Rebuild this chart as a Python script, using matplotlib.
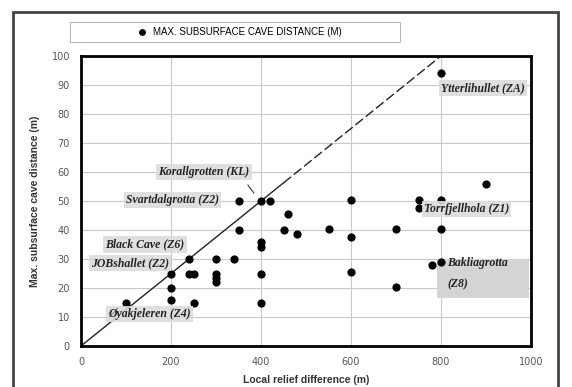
import matplotlib.pyplot as plt
from matplotlib.patches import Rectangle

# cave data: local relief (m) vs. max subsurface distance (m)
relief = [100, 200, 200, 200, 240, 240, 250, 250, 300, 300, 300, 300, 340,
          350, 350, 400, 420, 400, 400, 400, 400, 450, 460, 480, 550,
          600, 600, 600, 700, 700, 750, 750, 800, 800, 780, 800, 800, 900]
distance = [15, 25, 20, 16, 30, 25, 25, 15, 30, 25, 23.5, 22, 30,
            50, 40, 50, 50, 36, 34, 25, 15, 40, 45.5, 38.5, 40.5,
            50.5, 37.5, 25.5, 40.5, 20.5, 50.5, 47.5, 50.5, 40.5, 28, 29, 94, 56]

# reference line (1:8 ratio), solid part then dashed part
line_solid_x = [0, 450]
line_solid_y = [0, 56.25]
line_dash_x = [450, 800]
line_dash_y = [56.25, 100]

# cave names: (text, x, y, ha)
cave_labels = [
    ("Ytterlihullet (ZA)", 893, 89, "center"),
    ("Korallgrotten (KL)", 273, 60, "center"),
    ("Svartdalgrotta (Z2)", 204, 50.3, "center"),
    ("Torrfjellhola (Z1)", 762, 47.3, "left"),
    ("Black Cave (Z6)", 142, 35, "center"),
    ("JOBshallet (Z2)", 109, 28.6, "center"),
    ("Øyakjeleren (Z4)", 153, 11, "center"),
]

x_ticks = [0, 200, 400, 600, 800, 1000]
y_ticks = list(range(0, 101, 10))

W, H = 572, 387
fig = plt.figure(figsize=(W / 100, H / 100), dpi=100)
ax = fig.add_axes([81 / W, 1 - 346 / H, 450 / W, 290 / H])

ax.set_xlim(0, 1000)
ax.set_ylim(0, 100)
ax.set_xticks(x_ticks)
ax.set_yticks(y_ticks)
ax.grid(True, color="#c8c8c8", linewidth=0.8)
ax.set_axisbelow(True)
for s in ax.spines.values():
    s.set_linewidth(2)
ax.tick_params(length=0, pad=8, labelsize=7, labelcolor="#555555")

ax.plot(line_solid_x, line_solid_y, color="#222222", lw=1)
ax.plot(line_dash_x, line_dash_y, color="#222222", lw=1, dashes=(7, 2.5))

pts = ax.scatter(relief, distance, s=24, color="black", zorder=3)

lab_font = dict(family="Liberation Serif", style="italic", weight="bold",
                fontsize=8.5, color="#222222")
for txt, x, y, ha in cave_labels:
    ax.text(x, y, txt, ha=ha, va="center", zorder=4, **lab_font,
            bbox=dict(facecolor="#dcdcdc", edgecolor="none", pad=1.5, alpha=0.9))

# leader line to Korallgrotten
ax.plot([371, 384], [55.5, 52.8], color="#333333", lw=0.8)

# Bakliagrotta label, two lines in a darker box
ax.add_patch(Rectangle((790, 16.5), 205, 13.5, facecolor="#d4d4d4",
                       edgecolor="none", zorder=2))
ax.text(813, 28.6, "Bakliagrotta", ha="left", va="center", zorder=4, **lab_font)
ax.text(815, 21.4, "(Z8)", ha="left", va="center", zorder=4, **lab_font)

ax.set_xlabel("Local relief difference (m)", fontsize=7.5, fontweight="bold",
              family="Liberation Sans", color="#333333", labelpad=6)
ax.set_ylabel("Max. subsurface cave distance (m)", fontsize=7.5,
              fontweight="bold", family="Liberation Sans", color="#333333",
              labelpad=8)

# legend box above the plot
fig.patches.append(Rectangle((70 / W, 1 - 42 / H), 330 / W, 20 / H,
                             transform=fig.transFigure, facecolor="none",
                             edgecolor="#bbbbbb", lw=0.8))
fig.legend([pts], ["MAX. SUBSURFACE CAVE DISTANCE (M)"], loc="center",
           bbox_to_anchor=(237 / W, 1 - 32 / H), frameon=False,
           handletextpad=0.1, markerscale=0.8, borderpad=0,
           prop=dict(family="Liberation Sans", size=7))

# outer frame
fig.patches.append(Rectangle((13 / W, -0.02), 545 / W, 1.02 - 12 / H,
                             transform=fig.transFigure, facecolor="none",
                             edgecolor="#444444", lw=2))

fig.savefig("out.png", dpi=100)
